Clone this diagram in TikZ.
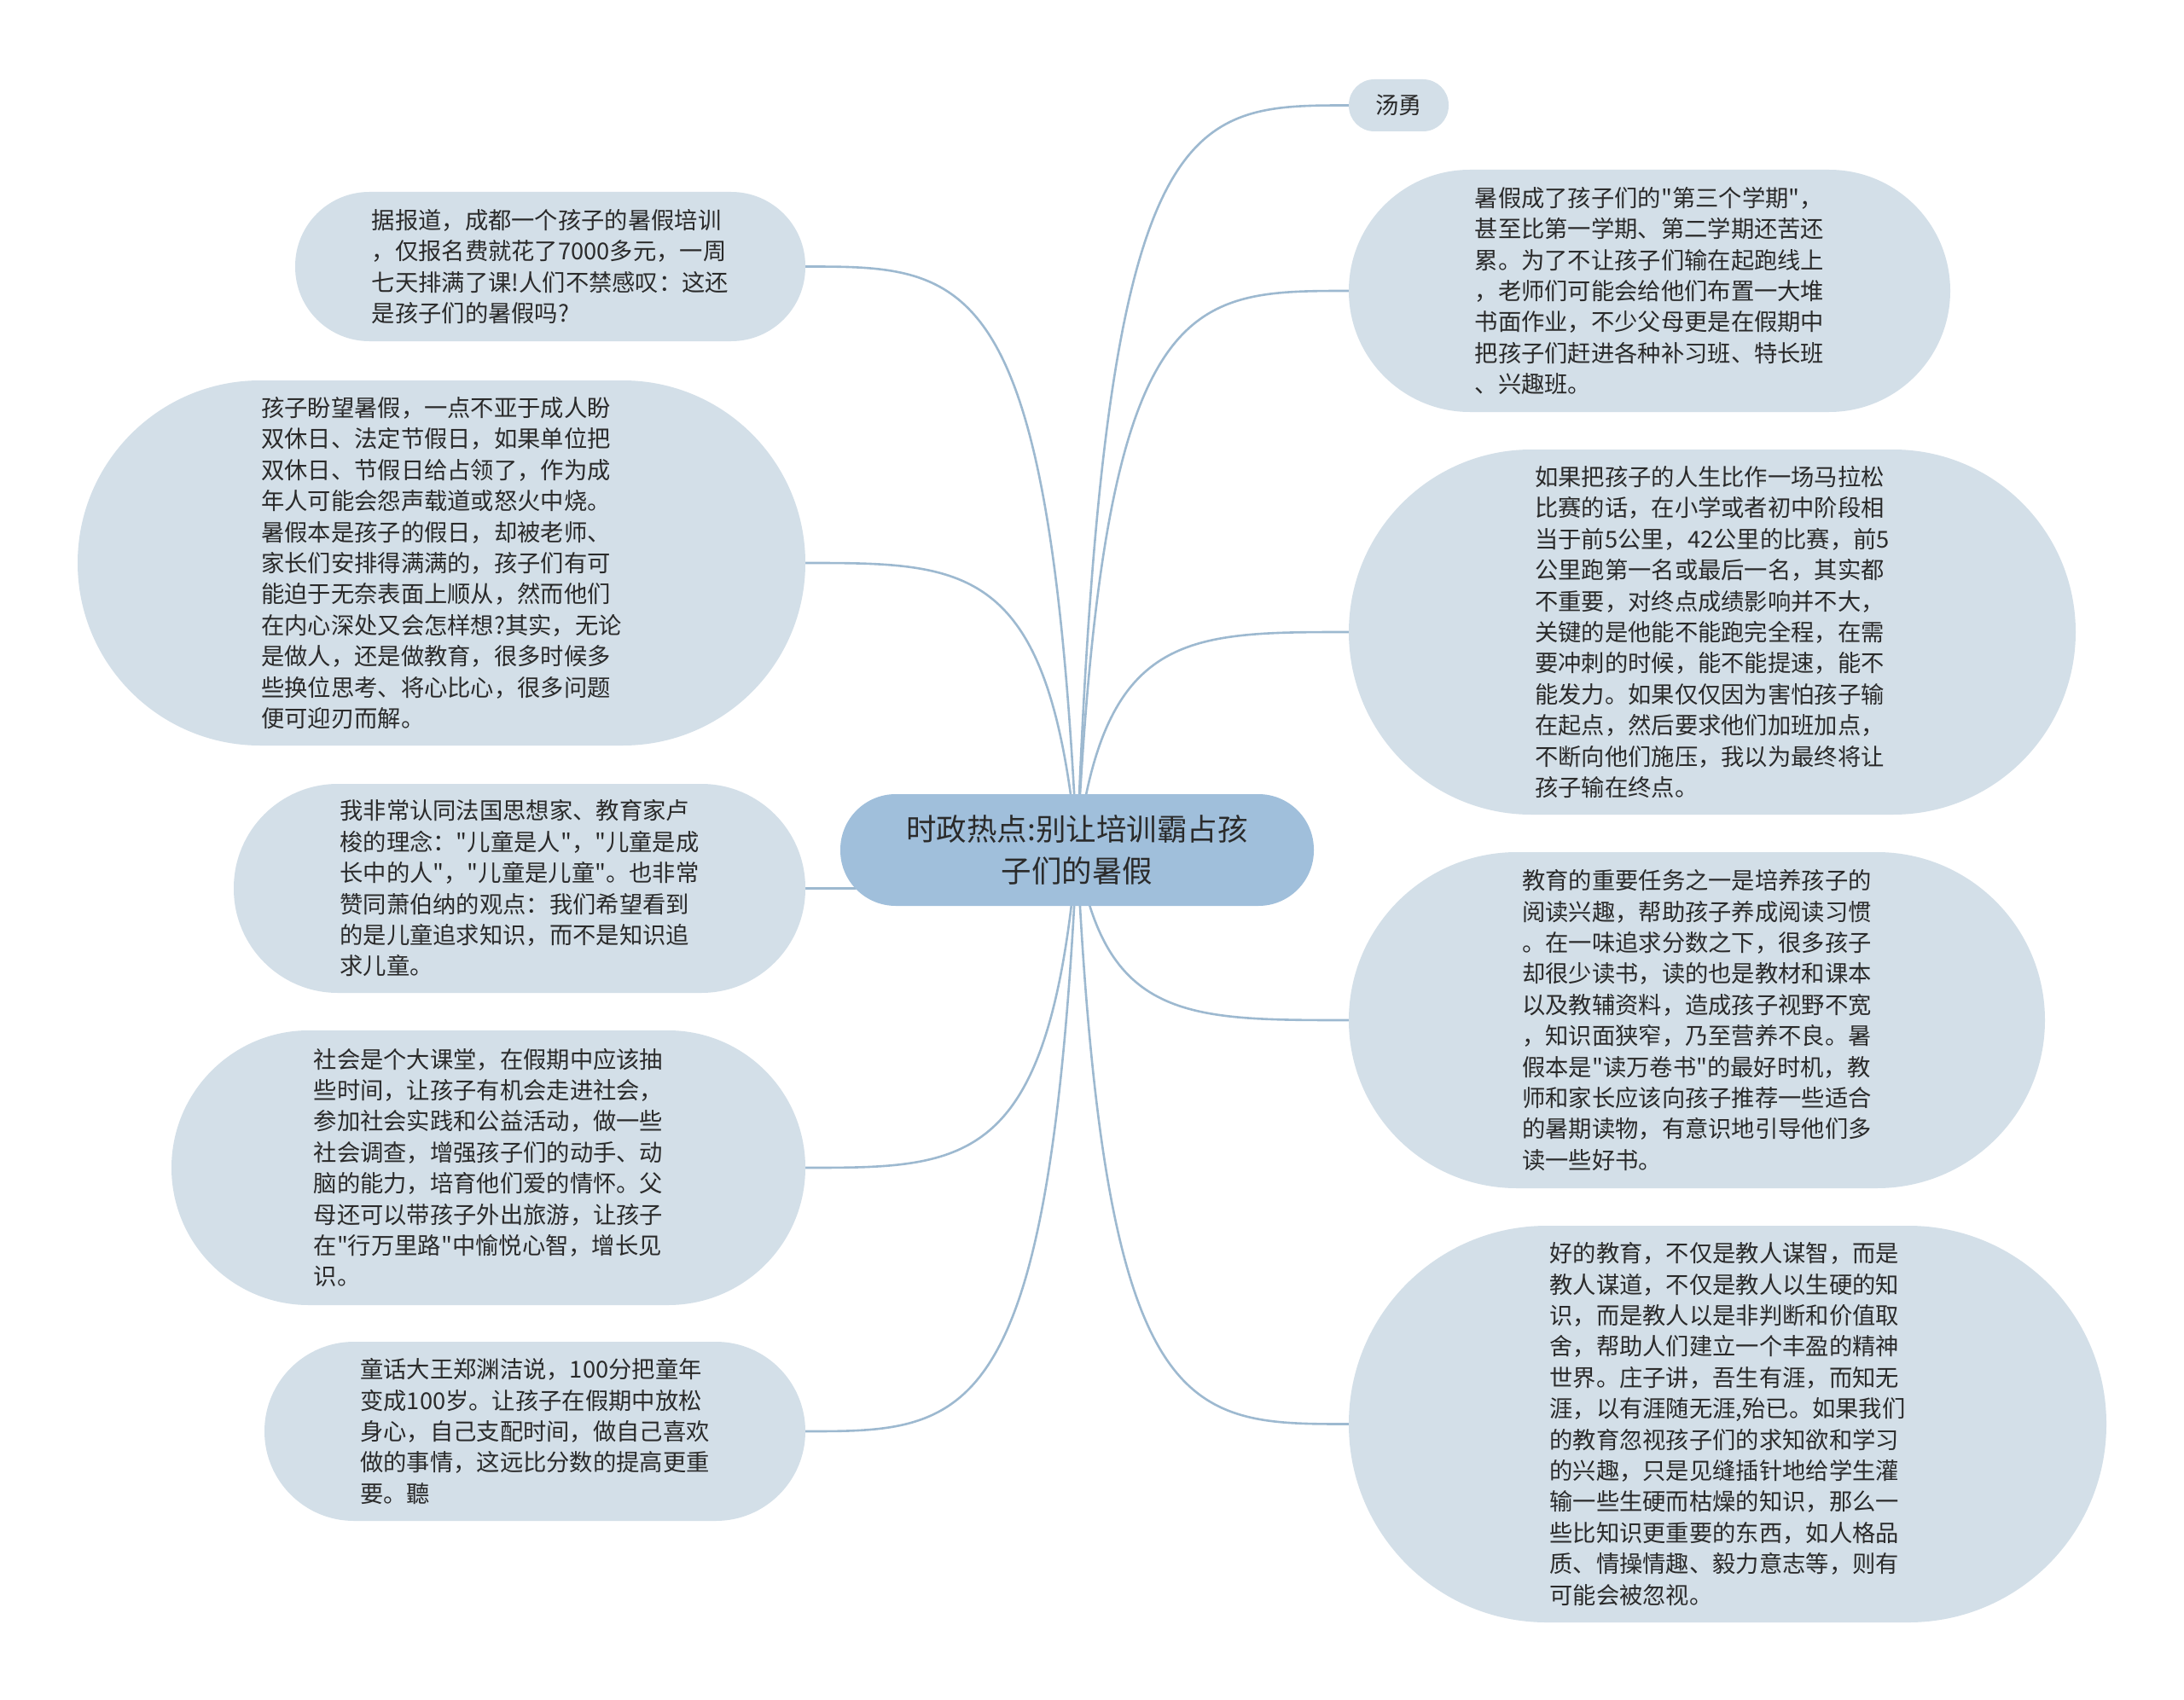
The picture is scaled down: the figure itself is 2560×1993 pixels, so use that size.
\documentclass[tikz,border=0pt]{standalone}
\usepackage{fontspec}
\setmainfont{Noto Sans CJK SC}
\newfontfamily\cjkf{Noto Sans CJK SC}
\definecolor{bubfill}{HTML}{D3DFE8}
\definecolor{rootfill}{HTML}{A0BFDB}
\definecolor{linec}{HTML}{9DB9D0}
\definecolor{txt}{HTML}{2A2A2A}
\tikzset{
  bub/.style={fill=bubfill, rounded corners=#1, inner sep=0pt, align=left, text=txt,
    font=\cjkf\fontsize{27.3pt}{36.4pt}\selectfont},
  rootbox/.style={fill=rootfill, rounded corners=65pt, inner sep=0pt, align=center, text=txt,
    font=\cjkf\fontsize{35.5pt}{49pt}\selectfont},
  conn/.style={draw=linec, line width=2.6pt}
}
\begin{document}
\begin{tikzpicture}[x=1pt,y=-1pt]
\useasboundingbox (0,0) rectangle (2560,1993);
\fill[white] (0,0) rectangle (2560,1993);

% coordinates for root connector origin
\coordinate (o) at (1262.5,996.5);

% connector end points
\coordinate (tT) at (1581,123.5);
\coordinate (tR1) at (1581,341);
\coordinate (tR2) at (1581,741);
\coordinate (tR3) at (1581,1196);
\coordinate (tR4) at (1581,1669.5);
\coordinate (tL1) at (944,312.5);
\coordinate (tL2) at (944,660);
\coordinate (tL3) at (944,1041.5);
\coordinate (tL4) at (944,1369);
\coordinate (tL5) at (944,1678);

\draw[conn] (o) .. controls (1294.35,123.5) and (1389.9,123.5) .. (tT);
\draw[conn] (o) .. controls (1294.35,341) and (1389.9,341) .. (tR1);
\draw[conn] (o) .. controls (1294.35,741) and (1389.9,741) .. (tR2);
\draw[conn] (o) .. controls (1294.35,1196) and (1389.9,1196) .. (tR3);
\draw[conn] (o) .. controls (1294.35,1669.5) and (1389.9,1669.5) .. (tR4);
\draw[conn] (o) .. controls (1230.65,312.5) and (1135.1,312.5) .. (tL1);
\draw[conn] (o) .. controls (1230.65,660) and (1135.1,660) .. (tL2);
\draw[conn] (o) .. controls (1230.65,1041.5) and (1135.1,1041.5) .. (tL3);
\draw[conn] (o) .. controls (1230.65,1369) and (1135.1,1369) .. (tL4);
\draw[conn] (o) .. controls (1230.65,1678) and (1135.1,1678) .. (tL5);

% root
\node[rootbox, minimum width=555pt, minimum height=131pt] (root) at (1262.5,996.5)
  {时政热点:别让培训霸占孩\\子们的暑假};

% right side
\node[bub=30pt, minimum width=117pt, minimum height=61pt] (tang) at (1639.5,123.5) {汤勇};

\node[bub=142pt, minimum width=705pt, minimum height=284pt] (R1) at (1933.5,341)
  {暑假成了孩子们的"第三个学期"，\\甚至比第一学期、第二学期还苦还\\累。为了不让孩子们输在起跑线上\\，老师们可能会给他们布置一大堆\\书面作业，不少父母更是在假期中\\把孩子们赶进各种补习班、特长班\\、兴趣班。};

\node[bub=214pt, minimum width=852pt, minimum height=428pt] (R2) at (2007,741)
  {如果把孩子的人生比作一场马拉松\\比赛的话，在小学或者初中阶段相\\当于前5公里，42公里的比赛，前5\\公里跑第一名或最后一名，其实都\\不重要，对终点成绩影响并不大，\\关键的是他能不能跑完全程，在需\\要冲刺的时候，能不能提速，能不\\能发力。如果仅仅因为害怕孩子输\\在起点，然后要求他们加班加点，\\不断向他们施压，我以为最终将让\\孩子输在终点。};

\node[bub=197pt, minimum width=816pt, minimum height=394pt] (R3) at (1989,1196)
  {教育的重要任务之一是培养孩子的\\阅读兴趣，帮助孩子养成阅读习惯\\。在一味追求分数之下，很多孩子\\却很少读书，读的也是教材和课本\\以及教辅资料，造成孩子视野不宽\\，知识面狭窄，乃至营养不良。暑\\假本是"读万卷书"的最好时机，教\\师和家长应该向孩子推荐一些适合\\的暑期读物，有意识地引导他们多\\读一些好书。};

\node[bub=232pt, minimum width=888pt, minimum height=465pt] (R4) at (2025,1669.5)
  {好的教育，不仅是教人谋智，而是\\教人谋道，不仅是教人以生硬的知\\识，而是教人以是非判断和价值取\\舍，帮助人们建立一个丰盈的精神\\世界。庄子讲，吾生有涯，而知无\\涯，以有涯随无涯,殆已。如果我们\\的教育忽视孩子们的求知欲和学习\\的兴趣，只是见缝插针地给学生灌\\输一些生硬而枯燥的知识，那么一\\些比知识更重要的东西，如人格品\\质、情操情趣、毅力意志等，则有\\可能会被忽视。};

% left side
\node[bub=87pt, minimum width=598pt, minimum height=175pt] (L1) at (645,312.5)
  {据报道，成都一个孩子的暑假培训\\，仅报名费就花了7000多元，一周\\七天排满了课!人们不禁感叹：这还\\是孩子们的暑假吗?};

\node[bub=214pt, minimum width=853pt, minimum height=428pt] (L2) at (517.5,660)
  {孩子盼望暑假，一点不亚于成人盼\\双休日、法定节假日，如果单位把\\双休日、节假日给占领了，作为成\\年人可能会怨声载道或怒火中烧。\\暑假本是孩子的假日，却被老师、\\家长们安排得满满的，孩子们有可\\能迫于无奈表面上顺从，然而他们\\在内心深处又会怎样想?其实，无论\\是做人，还是做教育，很多时候多\\些换位思考、将心比心，很多问题\\便可迎刃而解。};

\node[bub=122pt, minimum width=670pt, minimum height=245pt] (L3) at (609,1041.5)
  {我非常认同法国思想家、教育家卢\\梭的理念："儿童是人"，"儿童是成\\长中的人"，"儿童是儿童"。也非常\\赞同萧伯纳的观点：我们希望看到\\的是儿童追求知识，而不是知识追\\求儿童。};

\node[bub=161pt, minimum width=743pt, minimum height=322pt] (L4) at (572.5,1369)
  {社会是个大课堂，在假期中应该抽\\些时间，让孩子有机会走进社会，\\参加社会实践和公益活动，做一些\\社会调查，增强孩子们的动手、动\\脑的能力，培育他们爱的情怀。父\\母还可以带孩子外出旅游，让孩子\\在"行万里路"中愉悦心智，增长见\\识。};

\node[bub=105pt, minimum width=634pt, minimum height=210pt] (L5) at (627,1678)
  {童话大王郑渊洁说，100分把童年\\变成100岁。让孩子在假期中放松\\身心，自己支配时间，做自己喜欢\\做的事情，这远比分数的提高更重\\要。聽};
\end{tikzpicture}
\end{document}
